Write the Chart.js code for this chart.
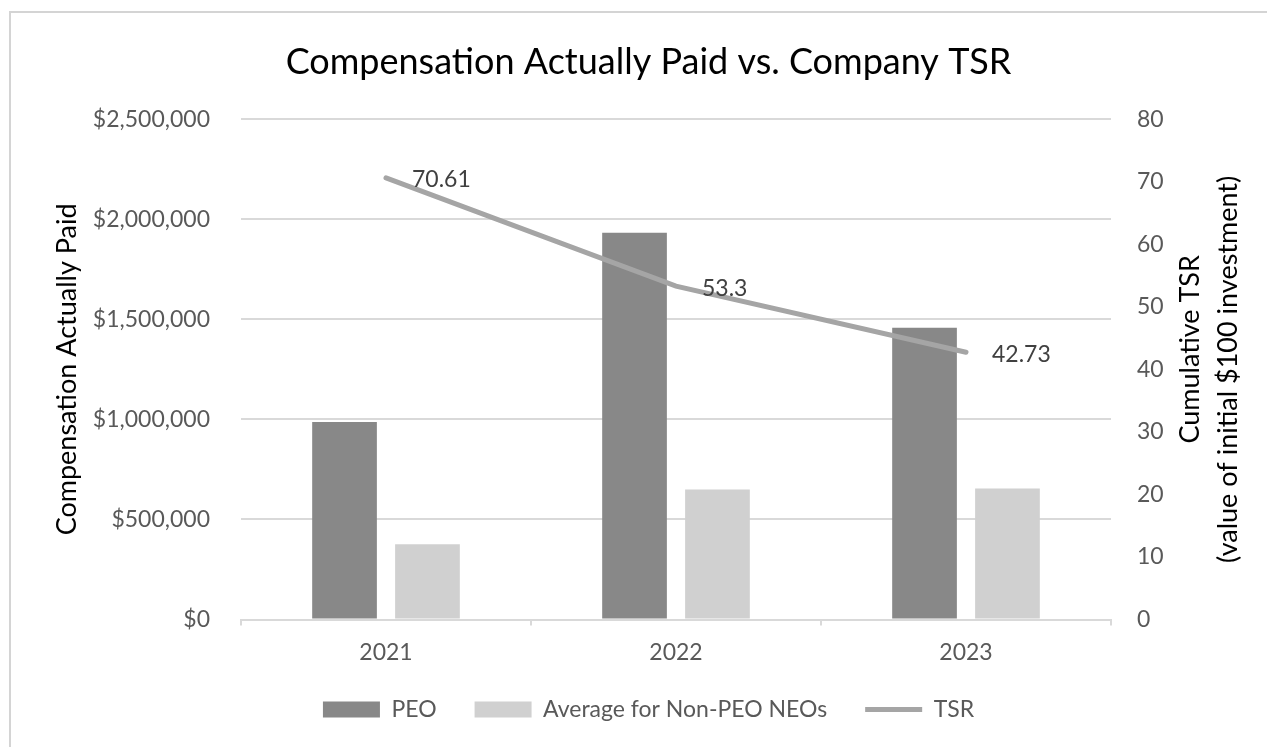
<!DOCTYPE html>
<html>
<head>
<meta charset="utf-8">
<title>Compensation Actually Paid vs. Company TSR</title>
<script src="https://cdn.jsdelivr.net/npm/chart.js@4.4.1/dist/chart.umd.min.js"></script>
<style>
  html, body { margin: 0; padding: 0; background: #fff; }
  #wrap { width: 1267px; height: 747px; }
</style>
</head>
<body>
<div id="wrap"><canvas id="chart" width="1267" height="747"></canvas></div>
<script>
// ===== Data =====
const years = ["2021", "2022", "2023"];
const peoPaid = [987000, 1932000, 1458000];
const neoAvgPaid = [376000, 649000, 654000];
const tsrValues = [70.61, 53.3, 42.73];

const seriesNames = ["PEO", "Average for Non-PEO NEOs", "TSR"];
const chartTitle = "Compensation Actually Paid vs. Company TSR";
const leftTitle = "Compensation Actually Paid";
const rightTitle = ["Cumulative TSR", "(value of initial $100 investment)"];

// ===== Look =====
const FONT = "Lato";
const TEXT_GRAY = "#595959";
const GRID = "#d9d9d9";

// outer frame like the Excel chart area
const frame = {
  id: "frame",
  beforeDraw(chart) {
    const ctx = chart.ctx;
    ctx.save();
    ctx.strokeStyle = "#d4d4d4";
    ctx.lineWidth = 2;
    ctx.strokeRect(10, 12, 1400, 900);
    ctx.restore();
  }
};

// value labels to the right of the TSR points
const tsrLabels = {
  id: "tsrLabels",
  afterDatasetsDraw(chart) {
    const ctx = chart.ctx;
    const meta = chart.getDatasetMeta(2);
    ctx.save();
    ctx.font = "23px " + FONT;
    ctx.fillStyle = "#404040";
    ctx.textAlign = "left";
    ctx.textBaseline = "middle";
    meta.data.forEach((pt, i) => {
      ctx.fillText(String(tsrValues[i]), pt.x + 26, pt.y + 2);
    });
    ctx.restore();
  }
};

// right axis title reads bottom-to-top like the left one
const rightAxisTitle = {
  id: "rightAxisTitle",
  afterDraw(chart) {
    const ctx = chart.ctx;
    const area = chart.chartArea;
    const mid = (area.top + area.bottom) / 2;
    ctx.save();
    ctx.font = "27px " + FONT;
    ctx.fillStyle = "#000";
    ctx.textAlign = "center";
    ctx.textBaseline = "middle";
    const spots = [[1190, mid - 20], [1228, mid]];
    rightTitle.forEach((line, i) => {
      ctx.save();
      ctx.translate(spots[i][0], spots[i][1]);
      ctx.rotate(-Math.PI / 2);
      ctx.fillText(line, 0, 0);
      ctx.restore();
    });
    ctx.restore();
  }
};

const ctx = document.getElementById("chart").getContext("2d");
new Chart(ctx, {
  type: "bar",
  data: {
    labels: years,
    datasets: [
      {
        label: seriesNames[0],
        data: peoPaid,
        backgroundColor: "#888888",
        yAxisID: "y",
        order: 1,
        categoryPercentage: 0.572,
        barPercentage: 0.78
      },
      {
        label: seriesNames[1],
        data: neoAvgPaid,
        backgroundColor: "#d0d0d0",
        yAxisID: "y",
        order: 1,
        categoryPercentage: 0.572,
        barPercentage: 0.78
      },
      {
        type: "line",
        label: seriesNames[2],
        data: tsrValues,
        borderColor: "#a5a5a5",
        backgroundColor: "#a5a5a5",
        borderWidth: 5,
        borderCapStyle: "round",
        pointRadius: 0,
        tension: 0,
        yAxisID: "y1",
        order: 0
      }
    ]
  },
  options: {
    responsive: false,
    animation: false,
    devicePixelRatio: 1,
    layout: { padding: { left: 30, right: 0, top: 0, bottom: 16 } },
    plugins: {
      title: {
        display: true,
        text: chartTitle,
        color: "#000",
        font: { family: FONT, size: 36, weight: "normal" },
        padding: { top: 41, bottom: 35 }
      },
      legend: {
        position: "bottom",
        labels: {
          usePointStyle: true,
          pointStyleWidth: 57,
          boxHeight: 16,
          padding: 38,
          color: TEXT_GRAY,
          font: { family: FONT, size: 23 },
          generateLabels(chart) {
            const items = Chart.defaults.plugins.legend.labels.generateLabels(chart);
            items.sort((a, b) => a.datasetIndex - b.datasetIndex);
            items.forEach(it => { it.pointStyle = it.datasetIndex < 2 ? "rect" : "line"; });
            return items;
          }
        }
      },
      tooltip: { enabled: false }
    },
    scales: {
      x: {
        offset: true,
        grid: { display: true, drawOnChartArea: false, drawTicks: true, tickLength: 6, color: GRID, lineWidth: 2 },
        border: { display: true, color: GRID, width: 2 },
        ticks: { color: TEXT_GRAY, font: { family: FONT, size: 23 }, padding: 13 },
        afterFit(scale) { scale.height = 40.5; }
      },
      y: {
        position: "left",
        min: 0,
        max: 2500000,
        ticks: {
          stepSize: 500000,
          padding: 31,
          color: TEXT_GRAY,
          font: { family: FONT, size: 23 },
          callback: v => "$" + v.toLocaleString("en-US")
        },
        grid: { color: GRID, lineWidth: 2, drawTicks: false },
        border: { display: false },
        title: {
          display: true,
          text: leftTitle,
          color: "#000",
          font: { family: FONT, size: 27 },
          padding: { top: 21 }
        },
        afterFit(scale) { scale.width = 211; }
      },
      y1: {
        position: "right",
        min: 0,
        max: 80,
        ticks: {
          stepSize: 10,
          padding: 26,
          color: TEXT_GRAY,
          font: { family: FONT, size: 23 }
        },
        grid: { display: false, drawTicks: false },
        border: { display: false },
        afterFit(scale) { scale.width = 156; }
      }
    }
  },
  plugins: [frame, tsrLabels, rightAxisTitle]
});
</script>
</body>
</html>
